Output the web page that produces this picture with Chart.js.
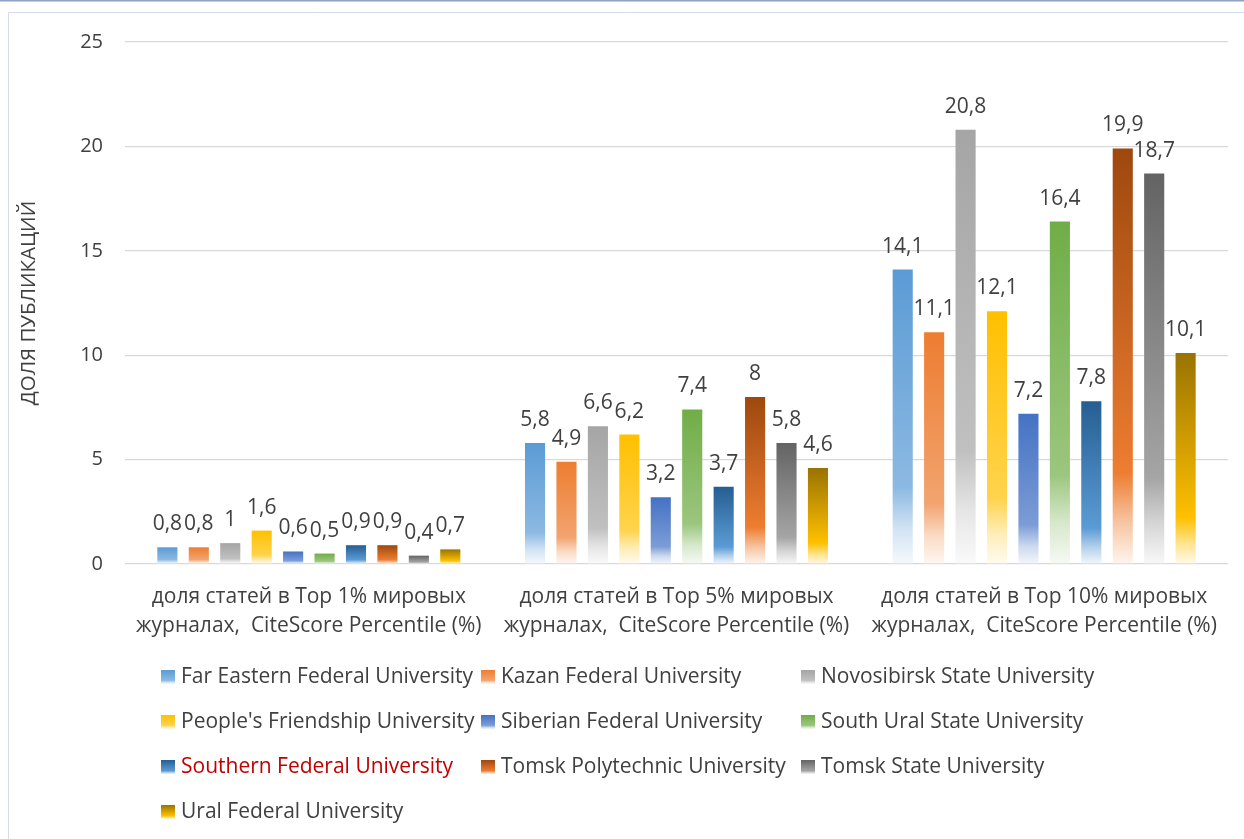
<!DOCTYPE html>
<html>
<head>
<meta charset="utf-8">
<script src="https://cdn.jsdelivr.net/npm/chart.js@4/dist/chart.umd.min.js"></script>
<style>
  html, body { margin: 0; padding: 0; background: #ffffff; overflow: hidden; }
  #wrap { position: absolute; left: 0; top: 0; width: 1244px; height: 839px; }
</style>
</head>
<body>
<div id="wrap"><canvas id="c" width="1244" height="839"></canvas></div>
<script>
// ---- data ----
const categories = [
  ["доля статей в Top 1% мировых", "журналах,  CiteScore Percentile (%)"],
  ["доля статей в Top 5% мировых", "журналах,  CiteScore Percentile (%)"],
  ["доля статей в Top 10% мировых", "журналах,  CiteScore Percentile (%)"]
];
const universities = [
  "Far Eastern Federal University",
  "Kazan Federal University",
  "Novosibirsk State University",
  "People's Friendship University",
  "Siberian Federal University",
  "South Ural State University",
  "Southern Federal University",
  "Tomsk Polytechnic University",
  "Tomsk State University",
  "Ural Federal University"
];
const farEastern    = [0.8, 5.8, 14.1];
const kazan         = [0.8, 4.9, 11.1];
const novosibirsk   = [1.0, 6.6, 20.8];
const peoples       = [1.6, 6.2, 12.1];
const siberian      = [0.6, 3.2, 7.2];
const southUral     = [0.5, 7.4, 16.4];
const southern      = [0.9, 3.7, 7.8];
const tomskPoly     = [0.9, 8.0, 19.9];
const tomskState    = [0.4, 5.8, 18.7];
const ural          = [0.7, 4.6, 10.1];
const seriesValues = [farEastern, kazan, novosibirsk, peoples, siberian, southUral, southern, tomskPoly, tomskState, ural];
const yTicks = [0, 5, 10, 15, 20, 25];
const yTitle = "ДОЛЯ ПУБЛИКАЦИЙ";

// ---- styles ----
const topColors = ["#5B9BD5", "#ED7D31", "#A5A5A5", "#FFC000", "#4472C4", "#70AD47", "#255E91", "#9E480E", "#636363", "#997300"];
const midColors = ["#5B9BD5", "#ED7D31", "#A5A5A5", "#FFC000", "#4472C4", "#70AD47", "#5B9BD5", "#ED7D31", "#A5A5A5", "#FFC000"];
const legendTextColors = ["#404040","#404040","#404040","#404040","#404040","#404040","#C00000","#404040","#404040","#404040"];
const FONT = "'Open Sans', 'Noto Sans', sans-serif";
const TEXT = "#404040";

function hexToRgb(h) { h = h.replace('#',''); return [parseInt(h.substr(0,2),16), parseInt(h.substr(2,2),16), parseInt(h.substr(4,2),16)]; }
function mixWhite(h, t) {
  const [r,g,b] = hexToRgb(h);
  const m = c => Math.round(c + (255 - c) * t);
  return `rgb(${m(r)},${m(g)},${m(b)})`;
}
function makeGradient(ctx, i, top, bottom) {
  const g = ctx.createLinearGradient(0, top, 0, bottom);
  const twoTone = topColors[i] !== midColors[i];
  if (twoTone) {
    g.addColorStop(0, topColors[i]);
    g.addColorStop(0.78, midColors[i]);
    g.addColorStop(0.9, mixWhite(midColors[i], 0.55));
    g.addColorStop(1, mixWhite(midColors[i], 0.92));
  } else {
    g.addColorStop(0, topColors[i]);
    g.addColorStop(0.74, mixWhite(topColors[i], 0.3));
    g.addColorStop(0.88, mixWhite(topColors[i], 0.72));
    g.addColorStop(1, mixWhite(topColors[i], 0.94));
  }
  return g;
}

const datasets = universities.map((name, i) => ({
  label: name,
  data: seriesValues[i],
  backgroundColor: (context) => {
    const chart = context.chart;
    const ys = chart.scales.y;
    if (!ys || context.parsed === undefined) return topColors[i];
    const v = context.parsed.y;
    const top = ys.getPixelForValue(v);
    const bottom = ys.getPixelForValue(0);
    if (!isFinite(top) || !isFinite(bottom) || top === bottom) return topColors[i];
    return makeGradient(chart.ctx, i, top, bottom);
  },
  borderWidth: 0,
  categoryPercentage: 0.855,
  barPercentage: 0.64
}));

const framePlugin = {
  id: 'frame',
  beforeDraw(chart) {
    const c = chart.ctx;
    c.save();
    c.fillStyle = '#ffffff';
    c.fillRect(0, 0, chart.width, chart.height);
    c.fillStyle = '#8FA2BF';
    c.fillRect(0, 0, chart.width, 1.5);
    c.strokeStyle = '#D6DCE5';
    c.lineWidth = 1;
    c.beginPath();
    c.moveTo(8.5, chart.height);
    c.lineTo(8.5, 12.5);
    c.lineTo(chart.width, 12.5);
    c.stroke();
    c.restore();
  }
};

const labelPlugin = {
  id: 'valueLabels',
  afterDatasetsDraw(chart) {
    const c = chart.ctx;
    c.save();
    c.font = `21px ${FONT}`;
    c.fillStyle = TEXT;
    c.textAlign = 'center';
    c.textBaseline = 'alphabetic';
    chart.data.datasets.forEach((ds, di) => {
      const meta = chart.getDatasetMeta(di);
      meta.data.forEach((el, j) => {
        const v = ds.data[j];
        c.fillText(String(v).replace('.', ','), el.x, el.y - 17);
      });
    });
    c.restore();
  }
};

const legendPlugin = {
  id: 'gridLegend',
  afterDraw(chart) {
    const c = chart.ctx;
    const colX = [161, 481, 801];
    const rowY = [677, 722, 767, 812];
    c.save();
    c.font = `21px ${FONT}`;
    c.textBaseline = 'middle';
    c.textAlign = 'left';
    chart.data.datasets.forEach((ds, i) => {
      const x = colX[i % 3];
      const y = rowY[Math.floor(i / 3)];
      const s = 14;
      c.fillStyle = makeGradient(c, i, y - s/2, y + s/2);
      c.fillRect(x, y - s/2, s, s);
      c.fillStyle = legendTextColors[i];
      c.fillText(ds.label, x + 20, y);
    });
    c.restore();
  }
};

new Chart(document.getElementById('c'), {
  type: 'bar',
  data: { labels: categories, datasets },
  plugins: [framePlugin, labelPlugin, legendPlugin],
  options: {
    responsive: false,
    animation: false,
    devicePixelRatio: 1,
    layout: { padding: { top: 42, right: 16, bottom: 0, left: 0 } },
    plugins: {
      legend: { display: false },
      tooltip: { enabled: false },
      title: { display: false }
    },
    scales: {
      x: {
        grid: { display: false, drawTicks: false },
        border: { display: false },
        ticks: {
          color: TEXT,
          font: { family: FONT, size: 21, lineHeight: 1.35 },
          padding: 19,
          maxRotation: 0,
          autoSkip: false
        },
        afterFit(scale) { scale.height = 275; }
      },
      y: {
        min: 0,
        max: 25,
        afterBuildTicks(scale) { scale.ticks = yTicks.map(v => ({ value: v })); },
        grid: { color: '#D9D9D9', lineWidth: 1.3, drawTicks: false },
        border: { display: false },
        ticks: {
          color: TEXT,
          font: { family: FONT, size: 20 },
          padding: 22
        },
        title: {
          display: true,
          text: yTitle,
          color: TEXT,
          font: { family: FONT, size: 20.5 },
          padding: { top: 17, bottom: 0 }
        },
        afterFit(scale) { scale.width = 125; }
      }
    }
  }
});
</script>
</body>
</html>
